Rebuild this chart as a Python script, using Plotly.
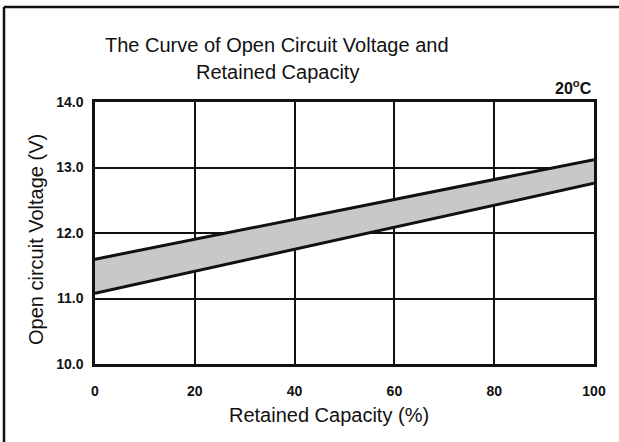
import plotly.graph_objects as go

capacity = [0, 100]
voltage_low = [11.08, 12.76]
voltage_high = [11.6, 13.12]
x_ticks = [0, 20, 40, 60, 80, 100]
y_ticks = [10.0, 11.0, 12.0, 13.0, 14.0]
y_tick_text = ["10.0", "11.0", "12.0", "13.0", "14.0"]

FONT = "Liberation Sans, Arial, sans-serif"

fig = go.Figure()
fig.add_trace(go.Scatter(x=capacity, y=voltage_low, mode="lines",
                         line=dict(color="#111111", width=3), showlegend=False))
fig.add_trace(go.Scatter(x=capacity, y=voltage_high, mode="lines",
                         line=dict(color="#111111", width=3), fill="tonexty",
                         fillcolor="#c8c8c8", showlegend=False))

L, R, T, B = 95, 25, 102, 78
W, H = 619, 442
pw, ph = W - L - R, H - T - B

def px_to_paper_x(px):
    return (px - L) / pw

def px_to_paper_y(py):
    return (H - B - py) / ph

tick_font = dict(size=14, family=FONT, color="#111111", weight="bold")

fig.update_layout(
    width=W, height=H,
    margin=dict(l=L, r=R, t=T, b=B),
    paper_bgcolor="white", plot_bgcolor="white",
    font=dict(family=FONT, color="#111111"),
    xaxis=dict(range=[0, 100], tickvals=x_ticks, showgrid=True, gridcolor="#111111",
               gridwidth=2, showline=True, linecolor="#111111", linewidth=2.5, mirror=True,
               zeroline=False, ticks="", ticklabelstandoff=12, tickfont=tick_font),
    yaxis=dict(range=[10, 14], tickvals=y_ticks, ticktext=y_tick_text, showgrid=True,
               gridcolor="#111111", gridwidth=2, showline=True, linecolor="#111111",
               linewidth=2.5, mirror=True, zeroline=False, ticks="", ticklabelstandoff=6,
               tickfont=tick_font),
    annotations=[
        dict(text="The Curve of Open Circuit Voltage and", xref="paper", yref="paper",
             x=px_to_paper_x(277), y=px_to_paper_y(45), xanchor="center", yanchor="middle",
             showarrow=False, font=dict(size=20, family=FONT, color="#111111")),
        dict(text="Retained Capacity", xref="paper", yref="paper",
             x=px_to_paper_x(277), y=px_to_paper_y(72), xanchor="center", yanchor="middle",
             showarrow=False, font=dict(size=20, family=FONT, color="#111111")),
        dict(text="<b>20<sup>o</sup>C</b>", xref="paper", yref="paper",
             x=1.0, y=px_to_paper_y(87), xanchor="right", yanchor="middle",
             showarrow=False, font=dict(size=16, family=FONT, color="#111111")),
        dict(text="Retained Capacity (%)", xref="paper", yref="paper",
             x=px_to_paper_x(329), y=px_to_paper_y(415), xanchor="center", yanchor="middle",
             showarrow=False, font=dict(size=20, family=FONT, color="#111111")),
        dict(text="Open circuit Voltage (V)", xref="paper", yref="paper", textangle=-90,
             x=px_to_paper_x(36), y=px_to_paper_y(240), xanchor="center", yanchor="middle",
             showarrow=False, font=dict(size=20, family=FONT, color="#111111")),
    ],
    shapes=[
        dict(type="line", xref="paper", yref="paper", x0=px_to_paper_x(4), x1=px_to_paper_x(619),
             y0=px_to_paper_y(7), y1=px_to_paper_y(7), line=dict(color="#111111", width=2.5)),
        dict(type="line", xref="paper", yref="paper", x0=px_to_paper_x(4), x1=px_to_paper_x(4),
             y0=px_to_paper_y(7), y1=px_to_paper_y(442), line=dict(color="#111111", width=2.5)),
    ],
)

fig.write_html("out.html", config={"displayModeBar": False},
               post_script="document.body.style.margin='0';document.body.style.overflow='hidden';")
